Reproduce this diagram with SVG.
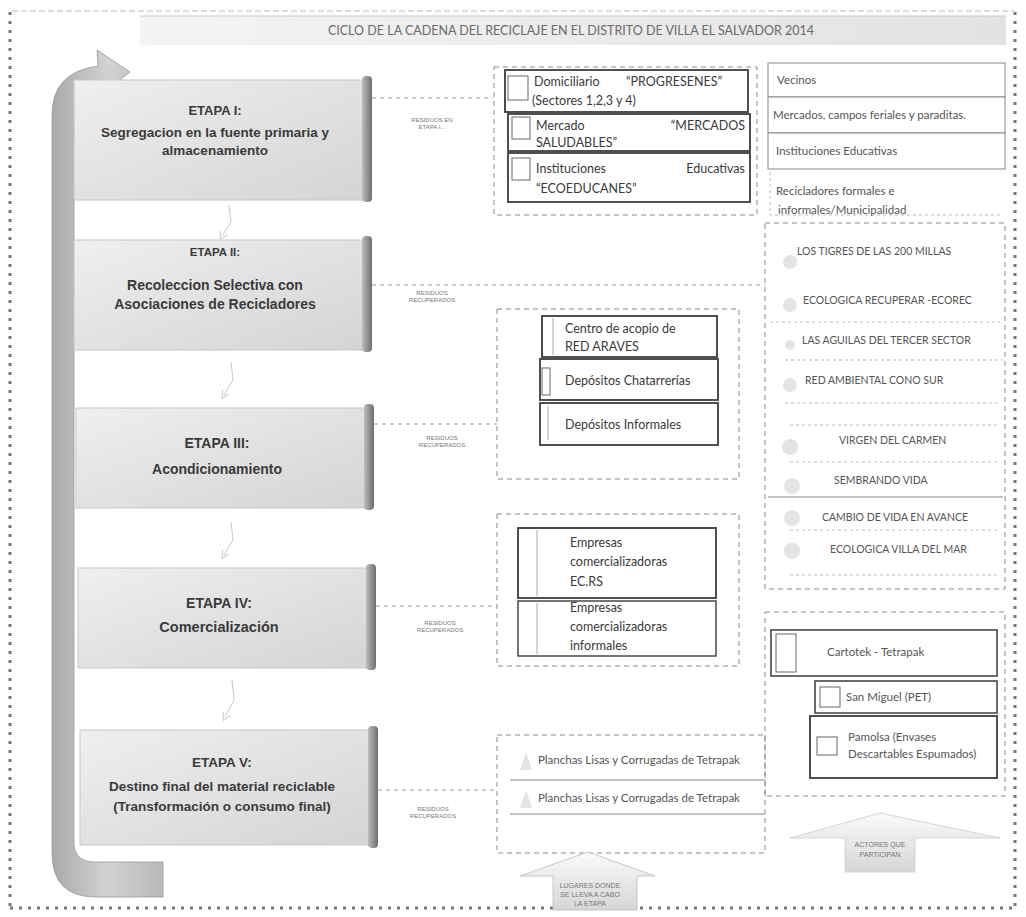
<svg xmlns="http://www.w3.org/2000/svg" width="1026" height="917" viewBox="0 0 1026 917">
<defs>
<linearGradient id="stageG" x1="0" y1="0" x2="1" y2="1">
<stop offset="0" stop-color="#efefef"/>
<stop offset="1" stop-color="#d4d4d4"/>
</linearGradient>
<linearGradient id="edgeG" x1="0" y1="0" x2="1" y2="0">
<stop offset="0" stop-color="#bdbdbd"/>
<stop offset="1" stop-color="#6e6e6e"/>
</linearGradient>
<linearGradient id="arrowG" x1="0" y1="0" x2="1" y2="0">
<stop offset="0" stop-color="#a9a9a9"/>
<stop offset="0.5" stop-color="#d2d2d2"/>
<stop offset="1" stop-color="#b8b8b8"/>
</linearGradient>
<linearGradient id="titleG" x1="0" y1="0" x2="1" y2="0">
<stop offset="0" stop-color="#f4f4f4"/>
<stop offset="1" stop-color="#e2e2e2"/>
</linearGradient>
<linearGradient id="upG" x1="0" y1="0" x2="0" y2="1">
<stop offset="0" stop-color="#fafafa"/>
<stop offset="1" stop-color="#d6d6d6"/>
</linearGradient>
<marker id="dn" markerWidth="8" markerHeight="8" refX="4" refY="4" orient="auto">
<path d="M0,0 L8,4 L0,8" fill="none" stroke="#c8c8c8" stroke-width="1"/>
</marker>
<style>
.stage{fill:url(#stageG);stroke:#c8c8c8;stroke-width:1}
.edge{fill:url(#edgeG)}
.st{font-family:"Liberation Sans",Arial,sans-serif;font-weight:bold;fill:#3a3a3a;text-anchor:middle}
.conn{stroke:#9a9a9a;stroke-width:1;stroke-dasharray:4 4;fill:none}
.grp{fill:none;stroke:#8a8a8a;stroke-width:1;stroke-dasharray:5 4}
.item{fill:#fff;stroke:#3c3c3c;stroke-width:1.8}
.itemL{fill:#fff;stroke:#888;stroke-width:1}
.ico{fill:#fff;stroke:#666;stroke-width:1}
.cone{fill:#e4e4e4}
.tx{font-family:Lato,"Liberation Sans",sans-serif;font-size:12.5px;fill:#3a3a3a}
.rx{font-family:Lato,"Liberation Sans",sans-serif;font-size:11.5px;fill:#555}
.cx{font-family:Lato,"Liberation Sans",sans-serif;font-size:10.5px;fill:#555}
.sm{font-family:"Liberation Sans",Arial,sans-serif;font-size:6px;fill:#777;text-anchor:middle}
.lg{font-family:"Liberation Sans",Arial,sans-serif;font-size:7px;fill:#777;text-anchor:middle}
.faint{stroke:#c8c8c8;stroke-width:1;fill:none}
</style>
</defs>
<rect width="1026" height="917" fill="#fff"/>

<!-- outer dotted border -->
<g id="border" fill="none" stroke="#777">
<line x1="12" y1="11" x2="1014" y2="11" stroke-width="1" stroke-dasharray="6 3" stroke="#bbb"/>
<line x1="10" y1="12" x2="10" y2="908" stroke-width="3" stroke-dasharray="3 6"/>
<line x1="1015" y1="12" x2="1015" y2="908" stroke-width="3" stroke-dasharray="3 6"/>
<line x1="10" y1="908" x2="1015" y2="908" stroke-width="3" stroke-dasharray="3 6"/>
</g>

<!-- title -->
<g id="title">
<rect x="140" y="16" width="866" height="29" fill="url(#titleG)"/>
<line x1="140" y1="16" x2="1006" y2="16" stroke="#ccc" stroke-width="1"/>
<text x="571" y="35" font-family="Lato,'Liberation Sans',sans-serif" font-size="12.5" fill="#6a6a6a" text-anchor="middle">CICLO DE LA CADENA  DEL RECICLAJE EN EL DISTRITO DE VILLA EL SALVADOR 2014</text>
</g>

<!-- big cycle arrow -->
<g id="cycle-arrow">
<path d="M163,897 L96,897 Q52,897 52,853 L52,115 Q52,72 98,66 L97,50 L130,72 L100,96 L100,88 Q76,90 74,118 L74,842 Q74,862 95,862 L163,862 Z" fill="url(#arrowG)" stroke="#9a9a9a" stroke-width="0.8"/>
</g>

<!-- stages -->
<g id="stage1">
<rect class="stage" x="74" y="80" width="290" height="120"/>
<rect class="edge" x="362" y="76" width="10" height="126" rx="4"/>
<text class="st" x="215" y="115" font-size="13">ETAPA I:</text>
<text class="st" x="215" y="137" font-size="13.5">Segregacion en la fuente primaria y</text>
<text class="st" x="215" y="155" font-size="13.5">almacenamiento</text>
</g>
<g id="stage2">
<rect class="stage" x="74" y="240" width="290" height="110"/>
<rect class="edge" x="362" y="236" width="10" height="116" rx="4"/>
<text class="st" x="215" y="256" font-size="11.5">ETAPA II:</text>
<text class="st" x="215" y="290" font-size="14">Recoleccion Selectiva con</text>
<text class="st" x="215" y="309" font-size="14">Asociaciones de Recicladores</text>
</g>
<g id="stage3">
<rect class="stage" x="76" y="408" width="290" height="100"/>
<rect class="edge" x="364" y="404" width="10" height="106" rx="4"/>
<text class="st" x="217" y="448" font-size="14">ETAPA III:</text>
<text class="st" x="217" y="474" font-size="14">Acondicionamiento</text>
</g>
<g id="stage4">
<rect class="stage" x="78" y="568" width="290" height="100"/>
<rect class="edge" x="366" y="564" width="10" height="106" rx="4"/>
<text class="st" x="219" y="608" font-size="14">ETAPA IV:</text>
<text class="st" x="219" y="632" font-size="14.5">Comercialización</text>
</g>
<g id="stage5">
<rect class="stage" x="80" y="730" width="290" height="115"/>
<rect class="edge" x="368" y="726" width="10" height="122" rx="4"/>
<text class="st" x="222" y="767" font-size="13.5">ETAPA V:</text>
<text class="st" x="222" y="791" font-size="13.5">Destino final del material reciclable</text>
<text class="st" x="222" y="811" font-size="13.5">(Transformación o consumo final)</text>
</g>

<!-- connectors -->
<g id="connectors">
<path class="faint" d="M229,205 L231,222 L222,236" marker-end="url(#dn)"/>
<path class="faint" d="M231,362 L233,380 L224,395" marker-end="url(#dn)"/>
<path class="faint" d="M231,522 L233,540 L224,555" marker-end="url(#dn)"/>
<path class="faint" d="M232,680 L234,700 L225,717" marker-end="url(#dn)"/>
<line class="conn" x1="372" y1="98" x2="493" y2="98"/>
<line class="conn" x1="372" y1="285" x2="765" y2="285"/>
<line class="conn" x1="374" y1="424" x2="497" y2="424"/>
<line class="conn" x1="376" y1="606" x2="497" y2="606"/>
<line class="conn" x1="378" y1="790" x2="497" y2="790"/>
<text class="sm" x="432" y="122">RESIDUOS EN</text>
<text class="sm" x="432" y="129">ETAPA I...</text>
<text class="sm" x="432" y="295">RESIDUOS</text>
<text class="sm" x="432" y="302">RECUPERADOS</text>
<text class="sm" x="442" y="440">RESIDUOS</text>
<text class="sm" x="442" y="447">RECUPERADOS</text>
<text class="sm" x="440" y="625">RESIDUOS</text>
<text class="sm" x="440" y="632">RECUPERADOS</text>
<text class="sm" x="433" y="811">RESIDUOS</text>
<text class="sm" x="433" y="818">RECUPERADOS</text>
</g>

<!-- middle group 1 -->
<g id="places-stage1">
<rect class="grp" x="494" y="67" width="263" height="148"/>
<rect class="item" x="505" y="70" width="243" height="42"/>
<rect class="ico" x="508" y="76" width="20" height="24"/>
<text class="tx" x="534" y="86">Domiciliario</text>
<text class="tx" x="626" y="86">“PROGRESENES”</text>
<text class="tx" x="532" y="105">(Sectores 1,2,3 y 4)</text>
<rect class="item" x="508" y="114" width="242" height="37" stroke-width="2.4"/>
<rect class="ico" x="512" y="117" width="18" height="22"/>
<text class="tx" x="536" y="130">Mercado</text>
<text class="tx" x="745" y="130" text-anchor="end">“MERCADOS</text>
<text class="tx" x="536" y="147">SALUDABLES”</text>
<rect class="item" x="508" y="153" width="242" height="49"/>
<rect class="ico" x="512" y="158" width="18" height="22"/>
<text class="tx" x="536" y="173">Instituciones</text>
<text class="tx" x="745" y="173" text-anchor="end">Educativas</text>
<text class="tx" x="536" y="193">“ECOEDUCANES”</text>
</g>

<!-- middle group 2 -->
<g id="places-stage3">
<rect class="grp" x="497" y="309" width="242" height="170"/>
<rect class="item" x="542" y="316" width="175" height="41"/>
<line x1="553" y1="318" x2="553" y2="355" stroke="#aaa" stroke-width="1"/>
<text class="tx" x="565" y="333">Centro de acopio  de</text>
<text class="tx" x="565" y="351">RED ARAVES</text>
<rect class="item" x="540" y="359" width="178" height="41"/>
<rect class="ico" x="542" y="368" width="8" height="27"/>
<text class="tx" x="565" y="385">Depósitos Chatarrerías</text>
<rect class="item" x="540" y="403" width="178" height="42"/>
<line x1="548" y1="406" x2="548" y2="440" stroke="#aaa" stroke-width="1"/>
<text class="tx" x="565" y="429">Depósitos Informales</text>
</g>

<!-- middle group 3 -->
<g id="places-stage4">
<rect class="grp" x="497" y="514" width="242" height="152"/>
<rect class="item" x="518" y="528" width="198" height="70"/>
<line x1="537" y1="530" x2="537" y2="596" stroke="#aaa" stroke-width="1"/>
<text class="tx" x="570" y="547">Empresas</text>
<text class="tx" x="570" y="566">comercializadoras</text>
<text class="tx" x="570" y="586">EC.RS</text>
<rect class="item" x="518" y="601" width="198" height="55" style="stroke-width:1.4"/>
<line x1="537" y1="603" x2="537" y2="654" stroke="#aaa" stroke-width="1"/>
<text class="tx" x="570" y="612">Empresas</text>
<text class="tx" x="570" y="631">comercializadoras</text>
<text class="tx" x="570" y="650">informales</text>
</g>

<!-- middle group 4 -->
<g id="places-stage5">
<rect class="grp" x="497" y="735" width="268" height="118"/>
<line x1="510" y1="780" x2="765" y2="780" stroke="#888" stroke-width="1"/>
<line x1="510" y1="814" x2="765" y2="814" stroke="#888" stroke-width="1"/>
<path class="cone" d="M520,770 L526,752 L532,770 Z"/>
<path class="cone" d="M520,808 L526,790 L532,808 Z"/>
<text class="rx" x="538" y="764">Planchas Lisas y Corrugadas de Tetrapak</text>
<text class="rx" x="538" y="802">Planchas Lisas y Corrugadas de Tetrapak</text>
</g>

<!-- right group 1 -->
<g id="actors-stage1">
<rect class="itemL" x="768" y="63" width="237" height="34"/>
<text class="rx" x="777" y="84">Vecinos</text>
<rect class="itemL" x="768" y="97" width="237" height="36"/>
<text class="rx" x="773" y="119">Mercados, campos feriales y paraditas.</text>
<rect class="itemL" x="768" y="133" width="237" height="36"/>
<text class="rx" x="776" y="155">Instituciones Educativas</text>
<path d="M770,172 L770,215 L1003,215" fill="none" stroke="#bbb" stroke-width="1" stroke-dasharray="3 3"/>
<text class="rx" x="776" y="195">Recicladores formales e</text>
<text class="rx" x="778" y="214">informales/Municipalidad</text>
</g>

<!-- right group 2 -->
<g id="actors-stage2">
<rect class="grp" x="765" y="223" width="240" height="366"/>
<g fill="none" stroke="#bbb" stroke-width="1" stroke-dasharray="3 3">
<line x1="770" y1="322" x2="1000" y2="322"/>
<line x1="785" y1="360" x2="1003" y2="360"/>
<line x1="785" y1="403" x2="1000" y2="403"/>
<line x1="790" y1="425" x2="1000" y2="425"/>
<line x1="790" y1="462" x2="1000" y2="462"/>
<line x1="790" y1="530" x2="1000" y2="530"/>
<line x1="790" y1="575" x2="1000" y2="575"/>
</g>
<line x1="768" y1="497" x2="1003" y2="497" stroke="#888" stroke-width="1"/>
<g class="cone">
<circle cx="790" cy="262" r="7"/>
<circle cx="790" cy="305" r="7"/>
<circle cx="790" cy="345" r="5"/>
<circle cx="790" cy="385" r="7"/>
<circle cx="790" cy="447" r="8"/>
<circle cx="792" cy="486" r="8"/>
<circle cx="792" cy="518" r="8"/>
<circle cx="792" cy="551" r="8"/>
</g>
<text class="cx" x="797" y="255">LOS TIGRES DE LAS 200 MILLAS</text>
<text class="cx" x="803" y="304">ECOLOGICA RECUPERAR -ECOREC</text>
<text class="cx" x="802" y="344">LAS AGUILAS DEL TERCER SECTOR</text>
<text class="cx" x="805" y="384">RED AMBIENTAL CONO SUR</text>
<text class="cx" x="839" y="444">VIRGEN DEL CARMEN</text>
<text class="cx" x="834" y="484">SEMBRANDO VIDA</text>
<text class="cx" x="822" y="521">CAMBIO DE VIDA EN AVANCE</text>
<text class="cx" x="830" y="553">ECOLOGICA VILLA DEL MAR</text>
</g>

<!-- right group 3 -->
<g id="actors-stage5">
<rect class="grp" x="765" y="612" width="240" height="184"/>
<rect class="item" x="771" y="630" width="226" height="46" style="stroke-width:1.5"/>
<rect class="ico" x="776" y="634" width="20" height="38"/>
<text class="rx" x="827" y="656">Cartotek  - Tetrapak</text>
<rect class="item" x="815" y="681" width="182" height="32" style="stroke-width:1.5"/>
<rect class="ico" x="820" y="687" width="20" height="20"/>
<text class="rx" x="846" y="701">San Miguel (PET)</text>
<rect class="item" x="810" y="716" width="187" height="62"/>
<rect class="ico" x="817" y="737" width="20" height="18"/>
<text class="rx" x="848" y="741">Pamolsa (Envases</text>
<text class="rx" x="848" y="758">Descartables Espumados)</text>
</g>

<!-- bottom legend arrows -->
<g id="legend-places">
<path d="M588,852 L655,876 L637,876 L637,910 L553,910 L553,876 L520,876 Z" fill="url(#upG)" stroke="#bbb" stroke-width="0.8"/>
<text class="lg" x="590" y="888">LUGARES DONDE</text>
<text class="lg" x="590" y="897">SE LLEVA A CABO</text>
<text class="lg" x="590" y="906">LA ETAPA</text>
</g>
<g id="legend-actors">
<path d="M880,813 L1000,838 L915,838 L915,872 L845,872 L845,838 L790,838 Z" fill="url(#upG)" stroke="#ccc" stroke-width="0.8"/>
<text class="lg" x="880" y="847">ACTORES QUE</text>
<text class="lg" x="880" y="857">PARTICIPAN</text>
</g>
</svg>
